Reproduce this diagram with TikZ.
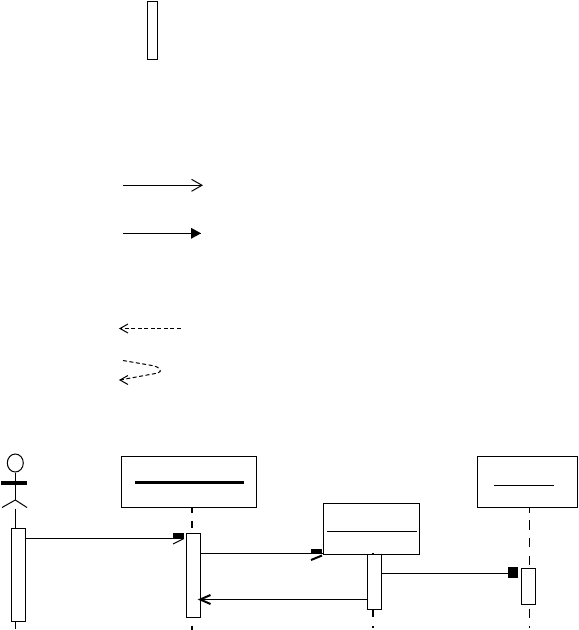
\documentclass[tikz,border=0pt]{standalone}
\usetikzlibrary{calc,shapes.geometric}
\tikzset{
  box/.style={draw=black,fill=white,line width=1pt,rectangle,inner sep=0pt,anchor=north west},
  msg/.style={line width=1pt,black},
  rule/.style={line width=1pt,black},
  dashmsg/.style={line width=1pt,black,dash pattern=on 4pt off 2.5pt},
  solidblock/.style={fill=black,draw=none,rectangle,inner sep=0pt,anchor=north west}
}
\newcommand{\bx}[6][box]{\node[#1,minimum width=#4pt,minimum height=#5pt] (#2) at (#3) {#6};}
\begin{document}
\begin{tikzpicture}[x=1pt,y=-1pt]
\useasboundingbox (0,0) rectangle (579,630);
\fill[white] (0,0) rectangle (579,630);
% legend: activation
\bx{legact}{147,0.8}{9.5}{58}{}
% legend: open arrow
\coordinate (o1) at (123,185.3);
\coordinate (o2) at (202,185.3);
\draw[msg] (o1) -- (o2);
\draw[msg] ($(o2)+(-10.5,-6)$) -- (o2) -- ($(o2)+(-10.5,6)$);
% legend: filled arrow
\coordinate (f1) at (123,233.3);
\coordinate (f2) at (201,233.3);
\draw[msg] (f1) -- (f2);
\fill ($(f2)+(-10,-5.5)$) -- (f2) -- ($(f2)+(-10,5.5)$) -- cycle;
% legend: dashed return
\coordinate (d1) at (180.5,328.5);
\coordinate (d2) at (120,328.5);
\draw[dashmsg] (d1) -- (d2);
\draw[msg] ($(d2)+(8,-4.5)$) -- (d2) -- ($(d2)+(8,4.5)$);
% legend: dashed self message
\coordinate (s1) at (123,360.5);
\coordinate (s2) at (120,380);
\draw[dashmsg] (s1) -- (152,365.5) .. controls (160,367) and (163,371) .. (158,373) -- (s2);
\draw[msg] ($(s2)+(8,-4.5)$) -- (s2) -- ($(s2)+(8,4.5)$);
% actor
\node[draw=black,line width=1pt,ellipse,minimum width=16pt,minimum height=18pt,inner sep=0pt] (head) at (15.3,463) {};
\node[solidblock,minimum width=26pt,minimum height=4pt] (bar) at (1,481) {};
\coordinate (hip) at (15.3,500);
\coordinate (lleg) at (2,507.5);
\coordinate (rleg) at (27,507.5);
\draw[msg] (head.south) -- (hip);
\draw[msg] (lleg) -- (hip) -- (rleg);
% boxes
\bx{a}{121,455.8}{135}{51}{}
\bx{b}{323,503}{96}{51}{}
\bx{c}{477,455.8}{100}{51}{}
\coordinate (a1) at (135,482);
\coordinate (a2) at (244,482);
\draw[rule,line width=3pt] (a1) -- (a2);
\coordinate (b1) at (327,531.5);
\coordinate (b2) at (417,531.5);
\draw[rule] (b1) -- (b2);
\coordinate (c1) at (494,485.5);
\coordinate (c2) at (554,485.5);
\draw[rule] (c1) -- (c2);
% lifelines
\coordinate (la) at (191.7,0);
\coordinate (lb) at (373,0);
\coordinate (lc) at (529.3,0);
\coordinate (lactor) at (15.3,0);
\coordinate (ea) at (191.7,630);
\coordinate (eb) at (373,628);
\coordinate (ec) at (529.3,628);
\coordinate (eactor) at (15.3,629);
\coordinate (lbt) at (373,552.5);
% activations
\bx{act1}{11,528}{14}{93}{}
\bx{act2}{186,533}{14}{84}{}
\bx{act3}{367,554}{14}{55}{}
\bx{act4}{521,568}{14}{36}{}
\draw[line width=1pt] (lactor |- lleg) ++(0,1) -- (act1.north -| lactor);
\draw[line width=1pt] (act1.south -| lactor) -- (eactor);
\draw[line width=2pt,dash pattern=on 5pt off 8pt on 7pt off 10pt] (a.south -| la) -- (act2.north -| la);
\draw[line width=2pt,dash pattern=on 0pt off 7.5pt on 5pt off 10pt] (act2.south -| la) -- (ea);
\draw[line width=2pt,dash pattern=on 1.5pt off 9pt] (lbt) -- (b.south -| lb);
\draw[line width=2pt,dash pattern=on 7pt off 9pt on 3pt off 10pt] (act3.south -| lb) -- (eb);
\draw[line width=1pt,dash pattern=on 5pt off 7pt on 10pt off 8pt on 9pt off 9pt on 9pt off 9pt] (c.south -| lc) -- (act4.north -| lc);
\draw[line width=1pt,dash pattern=on 0pt off 3.5pt on 9pt off 8pt on 3pt off 10pt] (act4.south -| lc) -- (ec);
% message 1
\coordinate (m1e) at (184,538.5);
\draw[msg] (act1.east |- m1e) -- (m1e);
\node[solidblock,minimum width=11pt,minimum height=5.5pt] (m1b) at (173,533) {};
\coordinate (m1s) at (173,544);
\draw[msg] (m1s) -- (m1e);
% message 2
\coordinate (m2e) at (323,553.5);
\draw[msg] (act2.east |- m2e) -- (m2e);
\node[solidblock,minimum width=11pt,minimum height=5pt] (m2b) at (311,549) {};
\coordinate (m2s) at (311,560);
\coordinate (m2t) at (322,555.5);
\draw[msg,line width=2pt] (m2s) -- (m2t);
% message 3
\coordinate (m3e) at (508,573.5);
\draw[msg] (act3.east |- m3e) -- (m3e);
\node[solidblock,minimum width=10pt,minimum height=11pt] (m3b) at (508,567) {};
% return
\coordinate (rt) at (200.2,599.5);
\draw[msg] (act3.west |- rt) -- (rt);
\draw[msg,line width=2pt] (210.5,595) -- (rt) -- (210.5,604);
\end{tikzpicture}
\end{document}
